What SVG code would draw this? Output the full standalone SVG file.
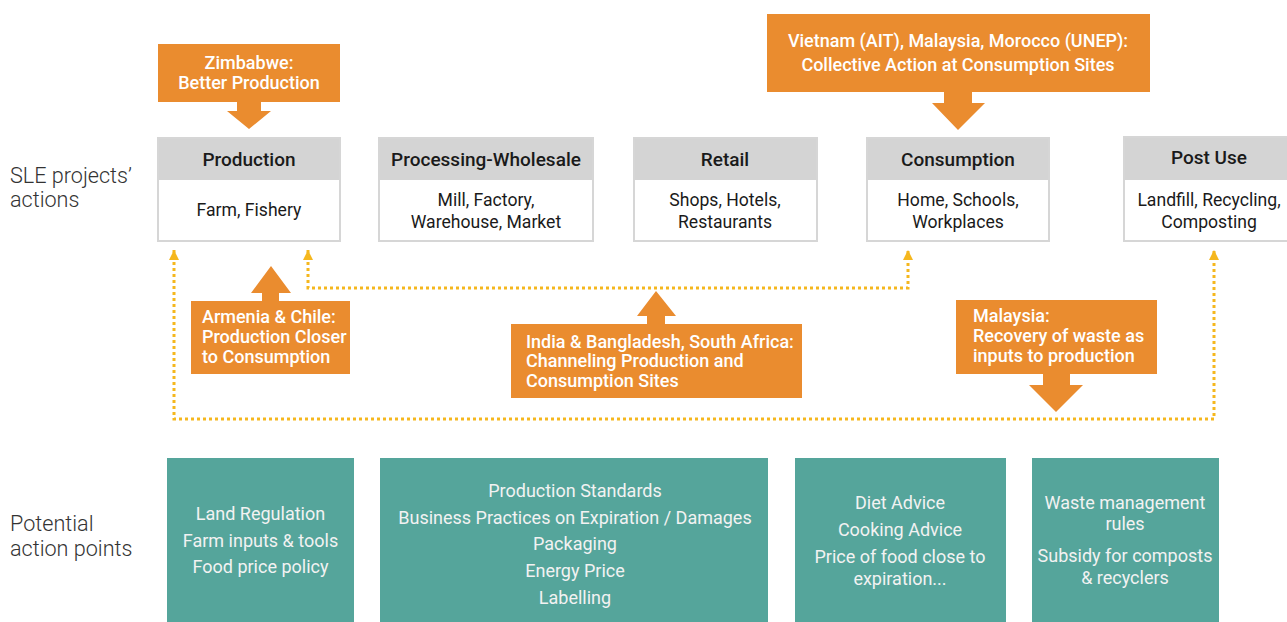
<svg xmlns="http://www.w3.org/2000/svg" width="1287" height="622" viewBox="0 0 1287 622">
<defs>
<style>
.lbl{font-family:Roboto,"Liberation Sans",sans-serif;font-size:21.6px;font-weight:300;fill:#333}
.hdr{fill:#D4D4D4}
.box{fill:#fff;stroke:#D6D6D6;stroke-width:2}
.ht{font-family:Roboto,"Liberation Sans",sans-serif;font-size:19px;font-weight:500;fill:#1a1a1a;text-anchor:middle}
.bt{font-family:Roboto,"Liberation Sans",sans-serif;font-size:17.6px;fill:#1a1a1a;text-anchor:middle}
.or{fill:#EA8C2F}
.ot{font-family:Roboto,"Liberation Sans",sans-serif;font-size:18px;font-weight:500;fill:#fff}
.tl{fill:#55A59B}
.tt{font-family:Roboto,"Liberation Sans",sans-serif;font-size:18px;fill:#F2F2F2;text-anchor:middle}
.dot{fill:none;stroke:#F5B71E;stroke-width:3;stroke-dasharray:3 3;marker-start:url(#ah);marker-end:url(#ah)}
</style>
<marker id="ah" viewBox="0 0 10 10" refX="10" refY="5" markerWidth="10" markerHeight="10" markerUnits="userSpaceOnUse" orient="auto-start-reverse">
<path d="M0,0 L10,5 L0,10 z" fill="#F5B71E"/>
</marker>
</defs>
<rect width="1287" height="622" fill="#fff"/>

<g id="row-labels">
<text class="lbl" x="10" y="183">SLE projects’</text>
<text class="lbl" x="10" y="207">actions</text>
<text class="lbl" x="10" y="531">Potential</text>
<text class="lbl" x="10" y="556">action points</text>
</g>

<g id="connectors">
<path class="dot" d="M174,250 V419 H1214 V250"/>
<path class="dot" d="M308,250 V288 H908 V250"/>
</g>

<g id="production">
<rect class="box" x="158" y="138" width="182" height="103"/>
<rect class="hdr" x="159" y="139" width="180" height="41"/>
<text class="ht" x="249" y="166">Production</text>
<text class="bt" x="249" y="216">Farm, Fishery</text>
</g>

<g id="processing">
<rect class="box" x="379" y="138" width="214" height="103"/>
<rect class="hdr" x="380" y="139" width="212" height="41"/>
<text class="ht" x="486" y="166">Processing-Wholesale</text>
<text class="bt" x="486" y="206">Mill, Factory,</text>
<text class="bt" x="486" y="228">Warehouse, Market</text>
</g>

<g id="retail">
<rect class="box" x="634" y="138" width="183" height="103"/>
<rect class="hdr" x="635" y="139" width="181" height="41"/>
<text class="ht" x="725" y="166">Retail</text>
<text class="bt" x="725" y="206">Shops, Hotels,</text>
<text class="bt" x="725" y="228">Restaurants</text>
</g>

<g id="consumption">
<rect class="box" x="867" y="138" width="182" height="103"/>
<rect class="hdr" x="868" y="139" width="180" height="41"/>
<text class="ht" x="958" y="166">Consumption</text>
<text class="bt" x="958" y="206">Home, Schools,</text>
<text class="bt" x="958" y="228">Workplaces</text>
</g>

<g id="postuse">
<rect class="box" x="1124" y="137" width="175" height="104"/>
<rect class="hdr" x="1125" y="138" width="173" height="42"/>
<text class="ht" x="1209" y="164">Post Use</text>
<text class="bt" x="1209" y="206">Landfill, Recycling,</text>
<text class="bt" x="1209" y="228">Composting</text>
</g>

<g id="zimbabwe">
<rect class="or" x="158" y="44" width="182" height="58"/>
<polygon class="or" points="237,101 261,101 261,111 271,111 249,129 227,111 237,111"/>
<text class="ot" x="249" y="69" text-anchor="middle">Zimbabwe:</text>
<text class="ot" x="249" y="89" text-anchor="middle">Better Production</text>
</g>

<g id="vietnam">
<rect class="or" x="767" y="14" width="383" height="78"/>
<polygon class="or" points="944,91 972,91 972,103 985,103 958,130 932,103 944,103"/>
<text class="ot" x="958" y="47" text-anchor="middle">Vietnam (AIT), Malaysia, Morocco (UNEP):</text>
<text class="ot" x="958" y="71" text-anchor="middle">Collective Action at Consumption Sites</text>
</g>

<g id="armenia">
<rect class="or" x="191" y="301" width="159" height="73"/>
<polygon class="or" points="262,302 262,293 251,293 271,266 291,293 279,293 279,302"/>
<text class="ot" x="202" y="323">Armenia &amp; Chile:</text>
<text class="ot" x="202" y="343">Production Closer</text>
<text class="ot" x="202" y="363">to Consumption</text>
</g>

<g id="india">
<rect class="or" x="511" y="324" width="291" height="74"/>
<polygon class="or" points="647,325 647,316 637,316 656,291 676,316 665,316 665,325"/>
<text class="ot" x="526" y="348">India &amp; Bangladesh, South Africa:</text>
<text class="ot" x="526" y="367">Channeling Production and</text>
<text class="ot" x="526" y="387">Consumption Sites</text>
</g>

<g id="malaysia">
<rect class="or" x="956" y="300" width="201" height="74"/>
<polygon class="or" points="1043,373 1070,373 1070,385 1083,385 1056,412 1029,385 1043,385"/>
<text class="ot" x="973" y="322">Malaysia:</text>
<text class="ot" x="973" y="342">Recovery of waste as</text>
<text class="ot" x="973" y="362">inputs to production</text>
</g>

<g id="ap-production">
<rect class="tl" x="167" y="458" width="187" height="164"/>
<text class="tt" x="260.5" y="520">Land Regulation</text>
<text class="tt" x="260.5" y="547">Farm inputs &amp; tools</text>
<text class="tt" x="260.5" y="573">Food price policy</text>
</g>

<g id="ap-processing">
<rect class="tl" x="380" y="458" width="388" height="164"/>
<text class="tt" x="575" y="497">Production Standards</text>
<text class="tt" x="575" y="524">Business Practices on Expiration / Damages</text>
<text class="tt" x="575" y="550">Packaging</text>
<text class="tt" x="575" y="577">Energy Price</text>
<text class="tt" x="575" y="604">Labelling</text>
</g>

<g id="ap-consumption">
<rect class="tl" x="795" y="458" width="211" height="164"/>
<text class="tt" x="900" y="509">Diet Advice</text>
<text class="tt" x="900" y="536">Cooking Advice</text>
<text class="tt" x="900" y="563">Price of food close to</text>
<text class="tt" x="900" y="585">expiration...</text>
</g>

<g id="ap-postuse">
<rect class="tl" x="1032" y="458" width="187" height="164"/>
<text class="tt" x="1125" y="509">Waste management</text>
<text class="tt" x="1125" y="530">rules</text>
<text class="tt" x="1125" y="562">Subsidy for composts</text>
<text class="tt" x="1125" y="584">&amp; recyclers</text>
</g>
</svg>
